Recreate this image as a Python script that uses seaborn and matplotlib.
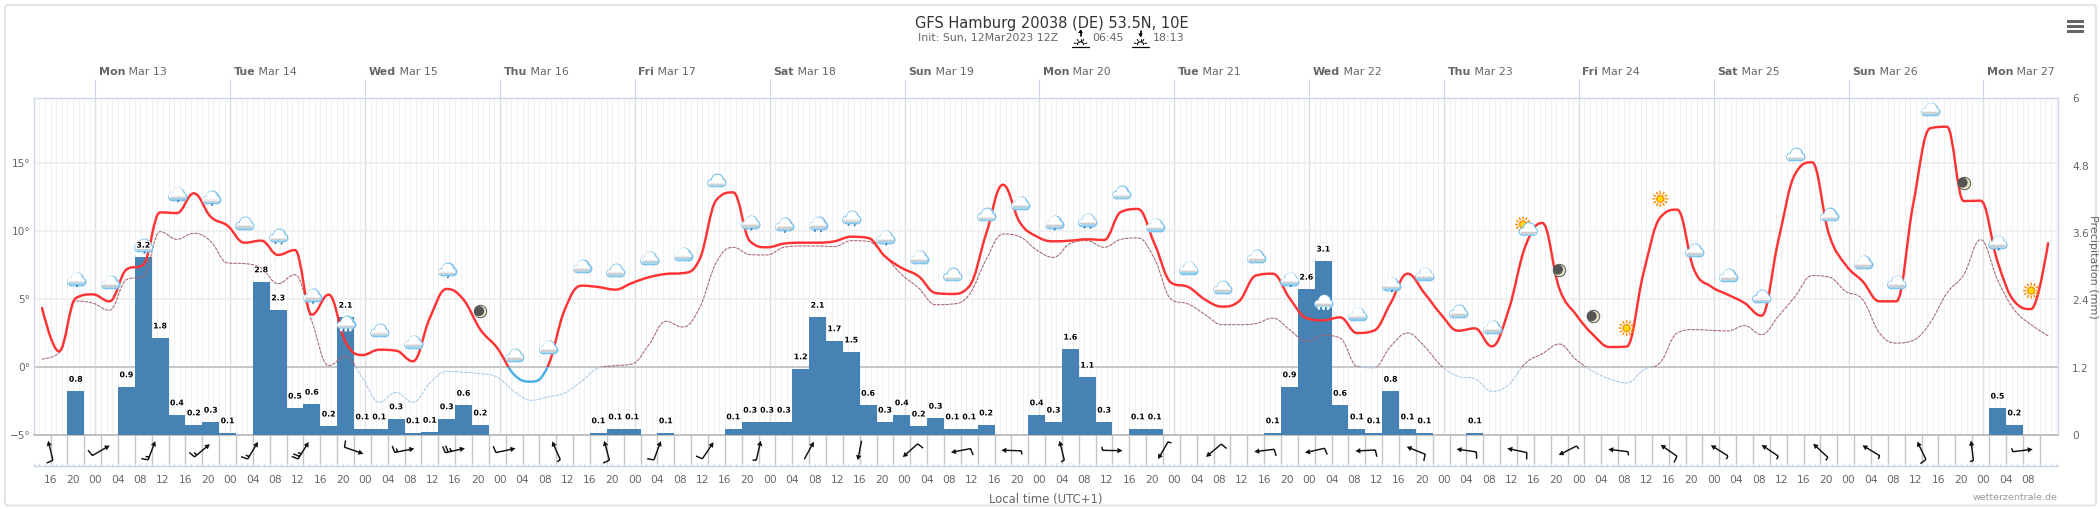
import numpy as np
import matplotlib
matplotlib.use("Agg")
import matplotlib.pyplot as plt
import matplotlib.patheffects as pe
import matplotlib.transforms as mtrans
from matplotlib.path import Path
from matplotlib.patches import PathPatch, Rectangle, FancyBboxPatch
import seaborn as sns

# ---------- data (hours since Mon 13 Mar 00 local; 3-hourly from -9.5) ----------
temperature = [4.34,1.15,5.07,5.34,4.83,7.16,7.52,11.37,11.32,12.77,11.05,10.39,9.14,9.29,8.24,8.6,3.85,5.32,1.84,0.88,
1.27,1.2,0.42,3.6,5.74,4.95,2.75,1.4,-0.56,-1.08,0.05,4.2,5.98,5.88,5.69,6.18,6.6,6.84,6.9,7.9,
12.28,12.84,9.24,8.8,9.07,9.14,9.14,9.24,9.58,9.49,8.14,7.28,6.67,5.44,5.37,5.93,9.78,13.4,10.64,9.6,
9.24,9.29,9.39,9.34,11.4,11.62,9.04,6.18,5.88,4.95,4.44,4.83,6.72,6.86,5.07,3.6,3.43,3.65,2.5,2.67,
4.7,6.86,5.44,3.85,2.67,2.84,1.52,4.2,8.9,10.59,5.8,3.85,2.38,1.47,1.5,6.91,11.0,11.57,7.16,5.93,
5.32,4.7,3.77,9.3,14.2,15.05,9.78,7.5,6.3,4.83,4.83,11.98,17.55,17.67,12.2,12.23,7.77,4.83,4.26,9.1]
dewpoint = [0.59,1.03,4.85,4.7,4.17,6.42,6.67,9.95,9.39,9.83,9.24,7.65,7.6,7.28,6.13,6.79,3.36,0.1,0.78,-0.8,
-2.6,-1.86,-2.6,-1.18,-0.32,-0.39,-0.49,-0.74,-1.79,-2.45,-2.2,-1.91,-1.05,-0.07,0.1,0.22,1.64,3.36,2.94,4.34,
7.7,8.8,8.26,8.24,8.8,8.9,8.9,8.85,9.29,9.24,8.14,6.79,5.81,4.58,4.63,5.32,7.89,9.78,9.58,8.6,
8.06,9.09,9.29,8.8,9.39,9.49,7.94,4.95,4.63,3.85,3.11,3.11,3.19,3.6,2.75,1.89,2.33,2.13,0.05,-0.07,
1.52,2.5,1.52,0.1,-0.69,-0.86,-1.79,-1.3,0.29,0.98,1.69,0.54,-0.32,-0.88,-1.18,-0.2,0.34,2.5,2.75,2.7,
2.65,3.04,2.38,3.73,5.2,6.72,6.62,5.56,4.95,2.5,1.76,1.96,3.24,5.44,6.79,9.36,6.42,4.2,3.11,2.3]
icons = list("rcrrrcRrSccrmcccccc" "crrRRrcccc" "rRcccccrScr" "cccpmmss" "ccccccccmrs")
rain_hours = [-3.5,5.5,8.5,11.5,14.5,17.5,20.5,23.5,29.5,32.5,35.5,38.5,41.5,44.5,47.5,50.5,53.5,56.5,59.5,62.5,65.5,68.5,
89.5,92.5,95.5,101.5,113.5,116.5,119.5,122.5,125.5,128.5,131.5,134.5,137.5,140.5,143.5,146.5,149.5,152.5,155.5,158.5,
167.5,170.5,173.5,176.5,179.5,185.5,188.5,209.5,212.5,215.5,218.5,221.5,224.5,227.5,230.5,233.5,236.5,245.5,338.5,341.5]
rain_mm = [.78,.86,3.17,1.73,.36,.18,.23,.04,2.73,2.23,.48,.55,.16,2.10,.11,.11,.29,.04,.05,.29,.53,.18,
.04,.11,.11,.04,.11,.23,.23,.23,1.18,2.10,1.68,1.48,.53,.23,.36,.16,.30,.11,.11,.18,
.36,.23,1.53,1.03,.23,.11,.11,.04,.86,2.60,3.10,.53,.11,.04,.78,.11,.04,.04,.48,.18]
rain_labels = ["0.8","0.9","3.2","1.8","0.4","0.2","0.3","0.1","2.8","2.3","0.5","0.6","0.2","2.1","0.1","0.1","0.3","0.1","0.1","0.3","0.6","0.2",
"0.1","0.1","0.1","0.1","0.1","0.3","0.3","0.3","1.2","2.1","1.7","1.5","0.6","0.3","0.4","0.2","0.3","0.1","0.1","0.2",
"0.4","0.3","1.6","1.1","0.3","0.1","0.1","0.1","0.9","2.6","3.1","0.6","0.1","0.1","0.8","0.1","0.1","0.1","0.5","0.2"]
wind_dir = [346,60,21,50,31,32,109,79,77,78,336,345,20,34,13,29,191,228,259,272,
346,91,210,230,263,257,267,292,278,282,243,277,305,302,304,313,301,334,353,83]
wind_level = [1,1,1.5,1.5,1.5,2.5,1,1.5,2.5,1,.5,1,1,1,.5,0,0,1,1,.5,
.5,.5,.5,1,1,1,1,1,1,1,.5,.5,1,.5,.5,.5,.5,1,.5,.5]
day_names = ["Mon","Tue","Wed","Thu","Fri","Sat","Sun","Mon","Tue","Wed","Thu","Fri","Sat","Sun","Mon"]
day_dates = ["Mar 13","Mar 14","Mar 15","Mar 16","Mar 17","Mar 18","Mar 19","Mar 20","Mar 21","Mar 22","Mar 23","Mar 24","Mar 25","Mar 26","Mar 27"]

sns.set_theme(style="white")
plt.rcParams["font.family"] = ["DejaVu Sans"]

W, H = 2100, 509
fig = plt.figure(figsize=(W/100, H/100), dpi=100, facecolor="white")
def rect(l, t, r, b):
    return [l/W, 1-b/H, (r-l)/W, (b-t)/H]
PX = 0.72
GREY = "#666666"
L, R, T_, B_, S_ = 33.5, 2057.6, 98.3, 435.0, 466.0
hours = -9.5 + 3*np.arange(len(temperature))
xlim = (-11.03, 349.2)
tlim = (-5, -5 + (B_-T_)/13.6)

pix = fig.add_axes(rect(0, 0, W, H), zorder=0)
pix.set_xlim(0, W); pix.set_ylim(H, 0); pix.axis("off")

def overlay(z):
    a = fig.add_axes(rect(L, T_, R, B_), zorder=z)
    a.patch.set_visible(False)
    a.set_xlim(*xlim)
    return a
ax_g = overlay(1); ax_r = overlay(2); ax_t = overlay(3); ax_l = overlay(4)

# grid axis (temperature scale)
ax_g.set_ylim(*tlim)
ax_g.set_yticks([-5, 0, 5, 10, 15], ["−5°", "0°", "5°", "10°", "15°"], color=GREY, fontsize=7.6)
ax_g.tick_params(axis="y", length=0, pad=2.5, left=True)
day_hours = 24*np.arange(len(day_names))
ax_g.set_xticks(day_hours, [""]*len(day_hours))
ax_g.set_xticks(np.arange(-11, 350), minor=True)
ax_g.xaxis.grid(True, which="minor", color="#f0f1f2", lw=0.8)
ax_g.xaxis.grid(True, which="major", color="#dcdee4", lw=1.0)
ax_g.yaxis.grid(True, color="#ececec", lw=1.1)
ax_g.set_axisbelow(True)
ax_g.tick_params(axis="x", which="major", top=True, bottom=False, length=19*PX, width=0.8, color="#ccd6eb", direction="out")
ax_g.tick_params(axis="x", which="minor", length=0)
ax_g.axhline(0, color="#bdbdbd", lw=1.1, zorder=1.5)
for s, sp in ax_g.spines.items():
    sp.set_visible(s in ("top", "left", "right"))
    sp.set_color("#ccd6eb"); sp.set_linewidth(1.0)
for h, n, d in zip(day_hours, day_names, day_dates):
    t1 = ax_g.annotate(n, xy=(h, 1), xycoords=("data", "axes fraction"), xytext=(2.5, 19.0), textcoords="offset points",
                       fontsize=7.9, fontweight="bold", color=GREY, va="center", ha="left", annotation_clip=False)
    ax_g.annotate(" "+d, xy=(1, 0.5), xycoords=t1, va="center", ha="left", fontsize=7.9, color=GREY, annotation_clip=False)

# precipitation bars
sns.barplot(x=rain_hours, y=rain_mm, native_scale=True, width=1, color="#4682b4", saturation=1,
            errorbar=None, ax=ax_r, linewidth=0)
ax_r.set_xlim(*xlim); ax_r.set_ylim(0, 6)
ax_r.set_xlabel(""); ax_r.set_ylabel("")
ax_r.yaxis.tick_right()
ax_r.set_yticks([0, 1.2, 2.4, 3.6, 4.8, 6], ["0", "1.2", "2.4", "3.6", "4.8", "6"], color=GREY, fontsize=7.6)
ax_r.tick_params(axis="y", length=0, pad=10.4)
ax_r.set_xticks([])
for sp in ax_r.spines.values():
    sp.set_visible(False)

# temperature / dew point as Highcharts-style splines
def spline(x, y):
    n = len(x)
    lc = np.zeros(n); rc = np.zeros(n)
    lx = np.zeros(n); rx = np.zeros(n)
    lx[0], lc[0], rx[0], rc[0] = x[0], y[0], x[0], y[0]
    lx[-1], lc[-1], rx[-1], rc[-1] = x[-1], y[-1], x[-1], y[-1]
    for i in range(1, n-1):
        a = (1.5*x[i]+x[i-1])/2.5; b = (1.5*y[i]+y[i-1])/2.5
        c = (1.5*x[i]+x[i+1])/2.5; d = (1.5*y[i]+y[i+1])/2.5
        corr = (d-b)*(c-x[i])/(c-a) + y[i] - d
        b += corr; d += corr
        if b > y[i-1] and b > y[i]:
            b = max(y[i-1], y[i]); d = 2*y[i]-b
        elif b < y[i-1] and b < y[i]:
            b = min(y[i-1], y[i]); d = 2*y[i]-b
        if d > y[i+1] and d > y[i]:
            d = max(y[i+1], y[i]); b = 2*y[i]-d
        elif d < y[i+1] and d < y[i]:
            d = min(y[i+1], y[i]); b = 2*y[i]-d
        lx[i], lc[i], rx[i], rc[i] = a, b, c, d
    v = [(x[0], y[0])]; c_ = [Path.MOVETO]
    for i in range(1, n):
        v += [(rx[i-1], rc[i-1]), (lx[i], lc[i]), (x[i], y[i])]
        c_ += [Path.CURVE4]*3
    return Path(v, c_)

ax_t.set_ylim(*tlim)
ax_t.axis("off")
ax_l.set_ylim(0, 6)
ax_l.axis("off")
def draw_zoned(y, above, below, lw, ls, z):
    p = spline(hours, np.asarray(y, float))
    for col, y0, y1 in ((above, 0, 40), (below, -40, 0)):
        art = PathPatch(p, fill=False, ec=col, lw=lw, ls=ls, zorder=z, capstyle="round", joinstyle="round")
        ax_t.add_patch(art)
        art.set_clip_path(Rectangle((-50, y0), 500, y1-y0, transform=ax_t.transData))
draw_zoned(dewpoint, "#a5656f", "#a9c8ea", 0.75, (0, (2.6, 1.6)), 3)
draw_zoned(temperature, "#ff3333", "#4aaee6", 1.75, "-", 4)

# ---------- weather icons as scatter markers ----------
ANCH = 14.0
ICON_S = (2*ANCH*PX)**2
def compound(parts):
    a = Path([(ANCH, ANCH)], [Path.MOVETO])
    return Path.make_compound_path(a, *parts)
def circ(x, y, r):
    return Path.circle((x, y), r)
def box(x0, y0, x1, y1):
    return Path([(x0, y0), (x1, y0), (x1, y1), (x0, y1), (x0, y0)],
                [Path.MOVETO, Path.LINETO, Path.LINETO, Path.LINETO, Path.CLOSEPOLY])
def seg(x0, y0, x1, y1):
    return Path([(x0, y0), (x1, y1)], [Path.MOVETO, Path.LINETO])
def cloud_layers(dx=0, dy=0):
    body = compound([circ(dx+1, dy+1.4, 5.4), circ(dx-5.2, dy-1.6, 3.0), circ(dx+5.6, dy-1.4, 3.2), box(dx-5.2, dy-4.6, dx+5.6, dy-1)])
    return [(body, "#ffffff", "#7fc4ea", 1.7),
            (body, "#ffffff", "none", 0),
            (compound([box(dx-7.2, dy-3.7, dx+8.0, dy-2.3)]), "#cfcfcf", "none", 0),
            (compound([box(dx-7.0, dy-2.3, dx+7.8, dy-1.2)]), "#ececec", "none", 0),
            (compound([box(dx-6.6, dy-4.8, dx+7.6, dy-3.7)]), "#a8d6ee", "none", 0)]
def drop(x, y):
    return Path([(x+0.8, y+1.6), (x+1.0, y-0.5), (x-0.9, y-1.3), (x-0.8, y+0.2), (x+0.8, y+1.6)],
                [Path.MOVETO, Path.LINETO, Path.LINETO, Path.LINETO, Path.CLOSEPOLY])
def sun_layers(dx=0, dy=0):
    ang = np.deg2rad(np.arange(0, 360, 30))
    rays = [seg(dx+5*np.cos(a), dy+5*np.sin(a), dx+8*np.cos(a), dy+8*np.sin(a)) for a in ang]
    return [(compound(rays), "none", "#ff8a00", 1.0),
            (compound([circ(dx, dy, 4.2)]), "#ff9a00", "none", 0),
            (compound([circ(dx, dy, 2.6)]), "#ffe000", "none", 0)]
ICON_LAYERS = {
    "c": cloud_layers(),
    "r": cloud_layers() + [(compound([drop(1.2, -6.6)]), "#1f78bd", "none", 0)],
    "R": cloud_layers() + [(compound([drop(-2.6, -6.6), drop(3.4, -7)]), "#1f78bd", "none", 0)],
    "S": cloud_layers() + [(compound([circ(-4, -6.4, 1.6), circ(0.4, -6.6, 1.6), circ(4.6, -6.4, 1.6)]), "#ffffff", "none", 0),
                           (compound([drop(-2.4, -6.4), drop(2.6, -6.4)]), "#1f78bd", "none", 0)],
    "m": [(compound([circ(0, 0, 6.2)]), "#e8e2c4", "#555555", 0.7),
          (compound([circ(-1.2, 0, 5.0)]), "#555555", "none", 0)],
    "s": sun_layers(),
    "p": sun_layers(-2.5, 3.0) + cloud_layers(2.5, -2.5),
}
icon_tr = mtrans.offset_copy(ax_t.transData, fig=fig, y=18.5*PX, units="points")
icon_idx = np.arange(2, len(temperature), 2)
for kind, layers in ICON_LAYERS.items():
    sel = [i for i, k in zip(icon_idx, icons) if k == kind]
    if not sel:
        continue
    for j, (path, fc, ec, lw) in enumerate(layers):
        ax_t.scatter(hours[sel], np.asarray(temperature)[sel], marker=path, s=ICON_S, facecolors=fc,
                     edgecolors=ec, linewidths=lw, transform=icon_tr, zorder=6+0.01*j, clip_on=False)

# rain value labels
for h, v, lab in zip(rain_hours, rain_mm, rain_labels):
    ax_l.annotate(lab, xy=(h, v), xytext=(0, 12*PX), textcoords="offset points", ha="center", va="center",
                  fontsize=5.6, fontweight="bold", color="black", zorder=8,
                  path_effects=[pe.withStroke(linewidth=1.6, foreground="white")])

# ---------- wind strip ----------
ax_w = fig.add_axes(rect(L, B_, R, S_), zorder=1)
ax_w.set_xlim(*xlim); ax_w.set_ylim(0, 1)
ax_w.set_yticks([])
wind_hours = -8 + 9*np.arange(len(wind_dir))
sep_hours = -8 + 3*np.arange(119)
ax_w.vlines(sep_hours[sep_hours < 347], 0.06, 1, color="#c6c6c6", lw=1.0, zorder=1)
ax_w.axhline(1, color="#c0c0c0", lw=1.4, zorder=2, clip_on=False)
tick_hours = -8 + 4*np.arange(89)
ax_w.set_xticks(tick_hours, [f"{int(h % 24):02d}" for h in tick_hours], color=GREY, fontsize=7.7)
ax_w.set_xticks(np.arange(-11, 350), minor=True)
ax_w.tick_params(axis="x", which="major", direction="in", length=3*PX, width=0.7, color="#ccd6eb", pad=6.2, bottom=True)
ax_w.tick_params(axis="x", which="minor", direction="in", length=3*PX, width=0.7, color="#ccd6eb", bottom=True)
for s, sp in ax_w.spines.items():
    sp.set_visible(s == "bottom")
    sp.set_color("#c3d0e6"); sp.set_linewidth(1.0)
for h, d, lev in zip(wind_hours, wind_dir, wind_level):
    parts = [seg(0, -10, 0, 7)]
    y = -10.0
    full = int(lev)
    for i in range(full):
        parts.append(seg(0, y, -6.8, y-1.2)); y += 3.0
    if lev - full > 0:
        parts.append(seg(0, y, -3.6, y-0.7))
    rot = mtrans.Affine2D().rotate_deg(-d)
    stroke = compound([p.transformed(rot) for p in parts])
    head = compound([Path([(0, 10), (-2.7, 5), (2.7, 5), (0, 10)],
                          [Path.MOVETO, Path.LINETO, Path.LINETO, Path.CLOSEPOLY]).transformed(rot)])
    ax_w.scatter([h], [0.5], marker=stroke, s=ICON_S, facecolors="none", edgecolors="#111111", linewidths=1.05, zorder=5, clip_on=False)
    ax_w.scatter([h], [0.5], marker=head, s=ICON_S, facecolors="#111111", edgecolors="none", linewidths=0, zorder=5, clip_on=False)

# ---------- chrome ----------
pix.add_patch(FancyBboxPatch((5, 5), 2091, 500.5, boxstyle="round,pad=0,rounding_size=3", fc="none", ec="#e2e2e2", lw=1.4))
for yb in (21.5, 26.5, 31.5):
    pix.add_patch(Rectangle((2067, yb-1.4), 17, 2.8, fc=GREY, ec="none"))
pix.text(1052, 23, "GFS Hamburg 20038 (DE) 53.5N, 10E", ha="center", va="center", fontsize=10.5, color="#333333")
pix.text(918, 37.5, "Init: Sun, 12Mar2023 12Z", ha="left", va="center", fontsize=7.9, color=GREY)
pix.text(1092, 37.5, "06:45", ha="left", va="center", fontsize=7.9, color=GREY)
pix.text(1153, 37.5, "18:13", ha="left", va="center", fontsize=7.9, color=GREY)
for cx, up in ((1080.5, True), (1140.5, False)):
    pix.plot([cx-8.5, cx+8.5], [46.6, 46.6], color="black", lw=0.9)
    th = np.linspace(np.pi, 2*np.pi, 16)
    pix.plot(cx+3.0*np.cos(th), 44.6+2.8*np.sin(th), color="black", lw=0.8)
    for a in np.deg2rad([195, 240, 270, 300, 345]):
        pix.plot([cx+4.4*np.cos(a), cx+6.6*np.cos(a)], [44.6+4.0*np.sin(a), 44.6+6.0*np.sin(a)], color="black", lw=0.7)
    pix.plot([cx, cx], [30.5, 36], color="black", lw=1.2)
    if up:
        pix.fill([cx-2.4, cx+2.4, cx], [33, 33, 29.5], color="black", lw=0)
    else:
        pix.fill([cx-2.4, cx+2.4, cx], [33.5, 33.5, 37], color="black", lw=0)
pix.set_xlim(0, W); pix.set_ylim(H, 0)
pix.text(1046, 500, "Local time (UTC+1)", ha="center", va="center", fontsize=8.4, color=GREY)
pix.text(2057.5, 497, "wetterzentrale.de", ha="right", va="center", fontsize=6.8, color="#999999")
pix.text(2093, 267, "Precipitation (mm)", ha="center", va="center", rotation=270, fontsize=8.0, color=GREY)

fig.savefig("out.png", dpi=100, facecolor="white")
